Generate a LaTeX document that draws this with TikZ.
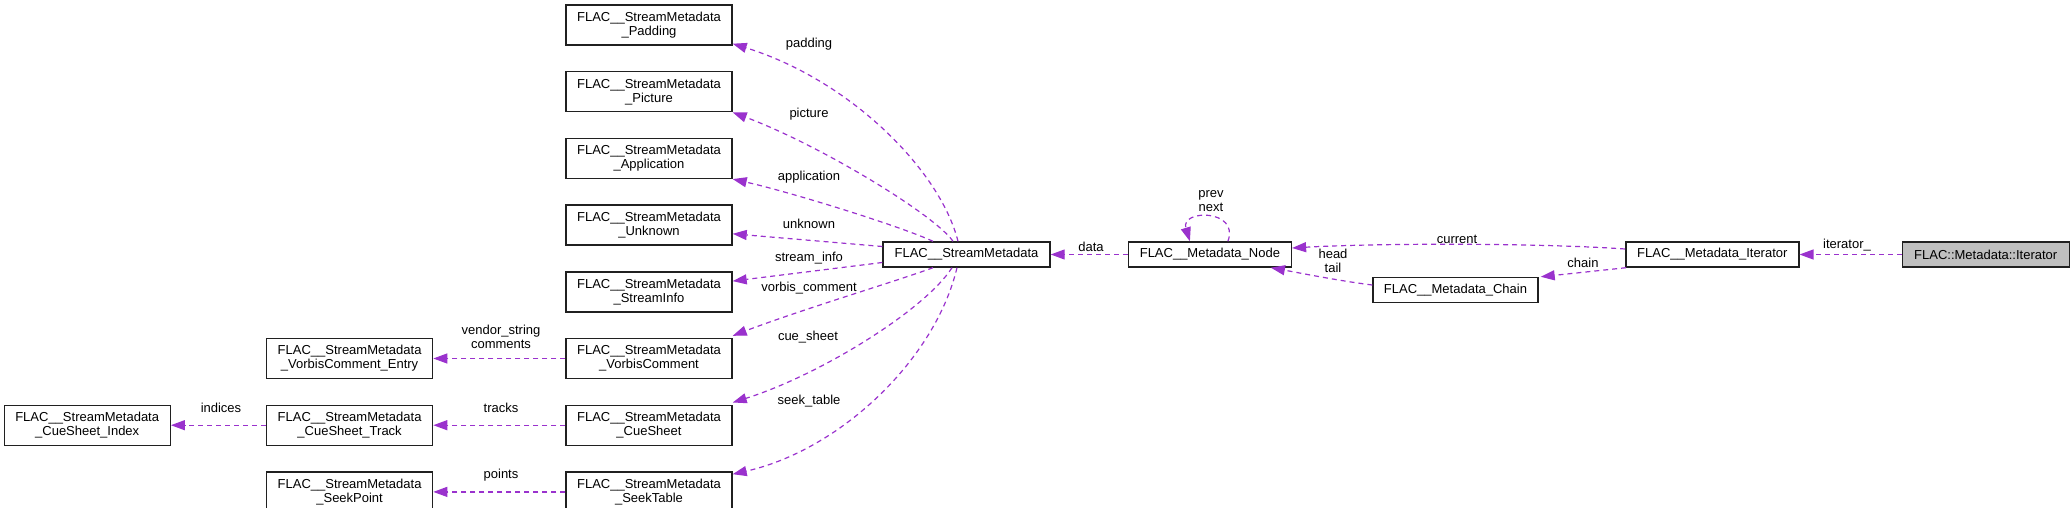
\documentclass[tikz,border=0pt]{standalone}
\usepackage{fontspec}
\setmainfont{Liberation Sans}
\usetikzlibrary{
arrows.meta,
positioning
}
\definecolor{FLACEdge}{HTML}{9A32CD}
\definecolor{FLACBorder}{HTML}{202020}
\definecolor{FLACRootBG}{HTML}{BFBFBF}
\tikzset{
flacbox/.style={draw=FLACBorder, fill=white, line width=1.4pt, align=center, inner sep=0pt,
  minimum width=166pt, minimum height=40pt, font=\fontsize{13pt}{14pt}\selectfont},
flacsingle/.style={flacbox, minimum height=25pt},
flacroot/.style={flacsingle, fill=FLACRootBG},
flacedge/.style={-{Triangle[length=14pt,width=10pt]}, line width=1.2pt,
  dash pattern=on 5pt off 4pt, draw=FLACEdge},
flaclabel/.style={align=center, inner sep=0pt, font=\fontsize{13pt}{14pt}\selectfont}
}

\begin{document}
\begin{tikzpicture}[x=1pt, y=1pt, node distance=25.3pt and 132pt]
\useasboundingbox (0,0) rectangle (2072,-508);
\node[flacbox] (padding) at (649,-25) {FLAC\_\_StreamMetadata\\\_Padding};
\node[flacbox, below=of padding] (picture) {FLAC\_\_StreamMetadata\\\_Picture};
\node[flacbox, below=of picture] (application) {FLAC\_\_StreamMetadata\\\_Application};
\node[flacbox, below=of application] (unknown) {FLAC\_\_StreamMetadata\\\_Unknown};
\node[flacbox, below=of unknown] (streaminfo) {FLAC\_\_StreamMetadata\\\_StreamInfo};
\node[flacbox, below=of streaminfo] (vorbis) {FLAC\_\_StreamMetadata\\\_VorbisComment};
\node[flacbox, below=of vorbis] (cuesheet) {FLAC\_\_StreamMetadata\\\_CueSheet};
\node[flacbox, below=of cuesheet] (seektable) {FLAC\_\_StreamMetadata\\\_SeekTable};
\node[flacbox, left=of vorbis] (entry) {FLAC\_\_StreamMetadata\\\_VorbisComment\_Entry};
\node[flacbox, left=of cuesheet] (track) {FLAC\_\_StreamMetadata\\\_CueSheet\_Track};
\node[flacbox, left=of seektable] (seekpoint) {FLAC\_\_StreamMetadata\\\_SeekPoint};
\node[flacbox, left=95pt of track] (index) {FLAC\_\_StreamMetadata\\\_CueSheet\_Index};
\node[flacsingle, minimum width=167pt] (smeta) at (966.5,-254.5) {FLAC\_\_StreamMetadata};
\node[flacsingle, minimum width=163pt, right=77pt of smeta] (mnode) {FLAC\_\_Metadata\_Node};
\node[flacsingle, minimum width=173pt, right=333pt of mnode] (miter) {FLAC\_\_Metadata\_Iterator};
\node[flacroot, minimum width=167pt, right=102pt of miter] (cppiter) {FLAC::Metadata::Iterator};
\node[flacsingle, minimum width=165pt] (mchain) at (1455.5,-290) {FLAC\_\_Metadata\_Chain};

\draw[flacedge] ([xshift=-8.5pt]smeta.north) .. controls (940,-170) and (850,-80) .. ([yshift=2pt]padding.south east);
\draw[flacedge] ([xshift=-13.5pt]smeta.north) .. controls (935,-215) and (820,-145) .. (picture.south east);
\draw[flacedge] ([xshift=-33.5pt]smeta.north) .. controls (900,-226) and (790,-192) .. (application.south east);
\draw[flacedge] ([yshift=8pt]smeta.west) -- ([yshift=12pt]unknown.south east);
\draw[flacedge] ([yshift=-8pt]smeta.west) -- ([yshift=-10pt]streaminfo.north east);
\draw[flacedge] ([xshift=-33.5pt]smeta.south) .. controls (900,-280) and (800,-310) .. ([yshift=2pt]vorbis.north east);
\draw[flacedge] ([xshift=-14.5pt]smeta.south) .. controls (925,-310) and (820,-375) .. ([yshift=2pt]cuesheet.north east);
\draw[flacedge] ([xshift=-9.5pt]smeta.south) .. controls (935,-360) and (840,-450) .. ([yshift=-3pt]seektable.north east);
\draw[flacedge] (vorbis) -- (entry);
\draw[flacedge] (cuesheet) -- (track);
\draw[flacedge] (track) -- (index);
\draw[flacedge] (seektable) -- (seekpoint);
\draw[flacedge] (mnode) -- (smeta);
\draw[flacedge] ([xshift=18pt]mnode.north) .. controls (1240,-209) and (1180,-209) .. ([xshift=-20pt]mnode.north);
\draw[flacedge] ([yshift=5.5pt]miter.west) .. controls (1540,-243) and (1380,-243) .. ([yshift=6.5pt]mnode.east);
\draw[flacedge] ([xshift=1pt]miter.south west) -- ([xshift=2pt]mchain.north east);
\draw[flacedge] ([yshift=5pt]mchain.west) .. controls (1340,-281) and (1300,-273) .. ([xshift=61pt]mnode.south);
\draw[flacedge] (cppiter) -- (miter);

\node[flaclabel] (lpadding) at (809,-44) {padding};
\node[flaclabel] (lpicture) at (809,-114) {picture};
\node[flaclabel] (lapplication) at (809,-177) {application};
\node[flaclabel] (lunknown) at (809,-224) {unknown};
\node[flaclabel] (lstreaminfo) at (809,-258) {stream\_info};
\node[flaclabel] (lvorbis) at (809,-288) {vorbis\_comment};
\node[flaclabel] (lcuesheet) at (808,-337) {cue\_sheet};
\node[flaclabel] (lseektable) at (809,-401) {seek\_table};
\node[flaclabel] (lentry) at (501,-336.5) {vendor\_string\\comments};
\node[flaclabel] (ltracks) at (501,-408) {tracks};
\node[flaclabel] (lindices) at (221,-408) {indices};
\node[flaclabel] (lpoints) at (501,-475) {points};
\node[flaclabel] (ldata) at (1091,-247) {data};
\node[flaclabel] (lprevnext) at (1211,-201.5) {prev\\next};
\node[flaclabel] (lcurrent) at (1457,-239) {current};
\node[flaclabel] (lheadtail) at (1333,-261) {head\\tail};
\node[flaclabel] (lchain) at (1583,-263) {chain};
\node[flaclabel] (literator) at (1847,-245) {iterator\_};
\end{tikzpicture}
\end{document}
